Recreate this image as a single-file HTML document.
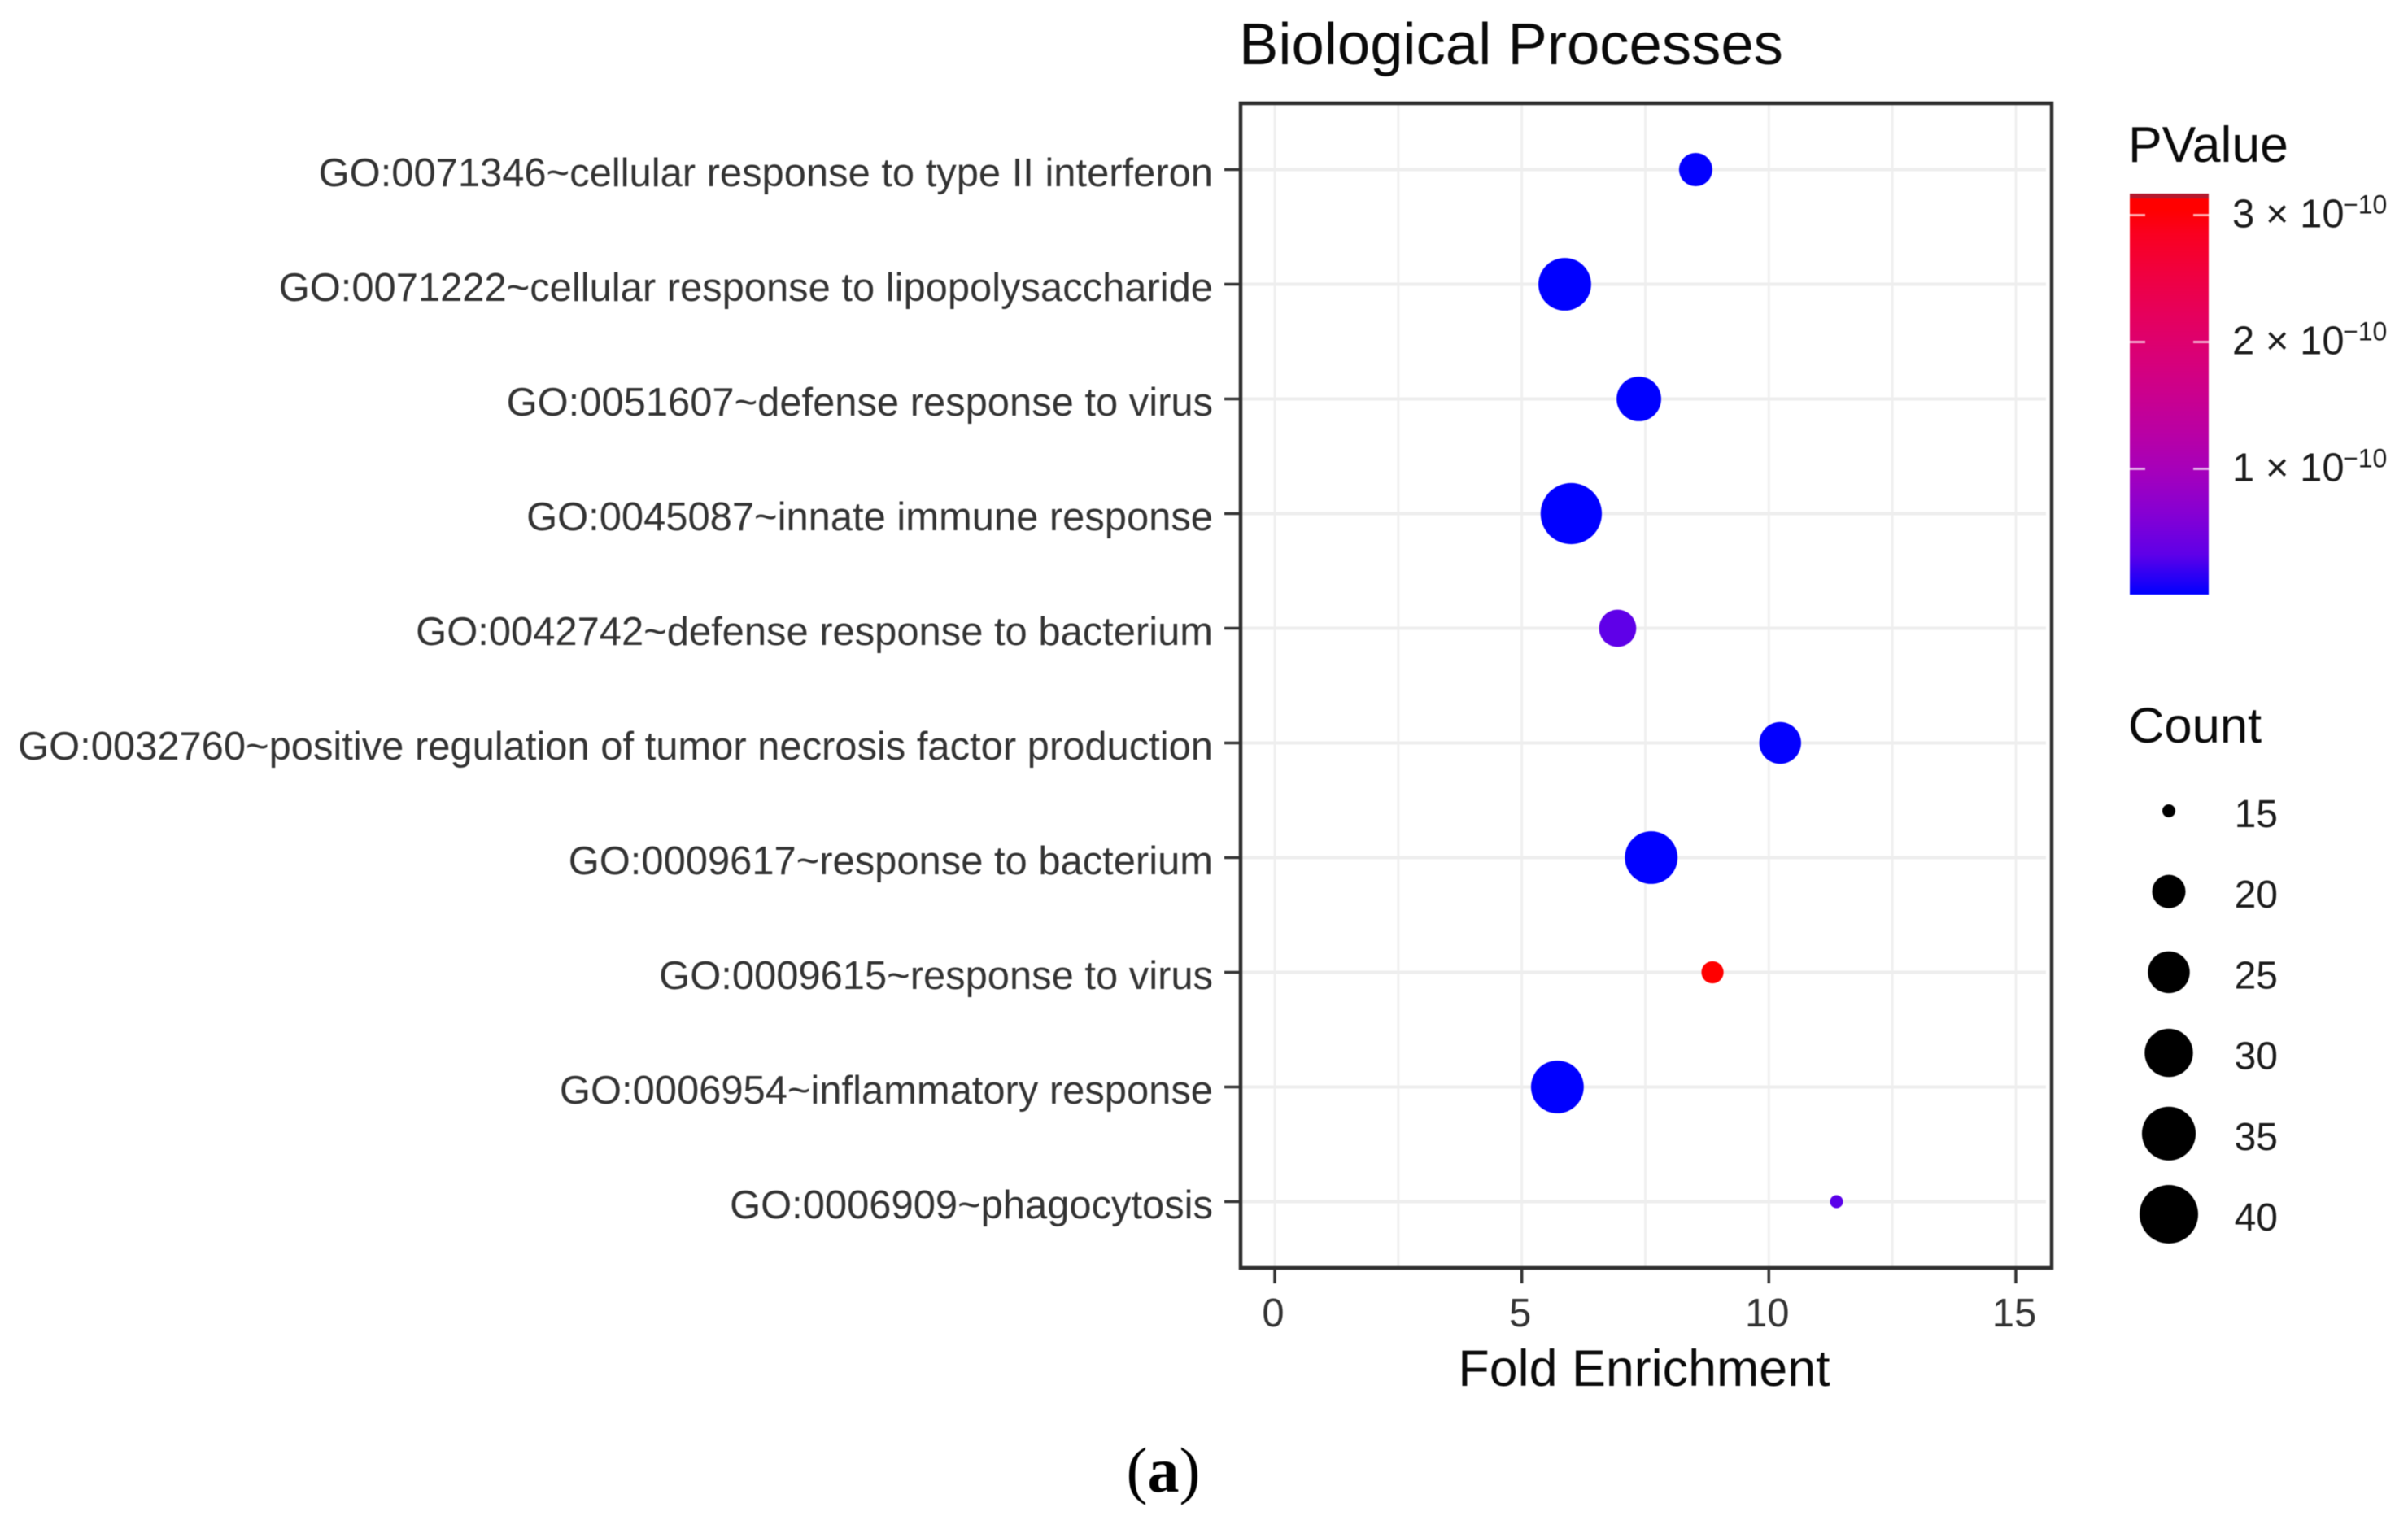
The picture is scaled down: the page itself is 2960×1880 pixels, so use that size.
<!DOCTYPE html>
<html lang="en">
<head>
<meta charset="utf-8">
<title>Biological Processes</title>
<style>
html,body{margin:0;padding:0;background:#fff;width:2960px;height:1880px;overflow:hidden}
svg{display:block;filter:blur(0.6px)}
text{font-family:"Liberation Sans",sans-serif}
</style>
</head>
<body>
<svg id="chart" xmlns="http://www.w3.org/2000/svg" width="2960" height="1880" viewBox="0 0 2960 1880">
  <defs>
    <linearGradient id="pvalue-gradient" x1="0" y1="1" x2="0" y2="0"></linearGradient>
  </defs>
  <rect x="0" y="0" width="2960" height="1880" fill="#ffffff"/>
  <text x="1523" y="79" font-size="72.5" fill="#0a0a0a">Biological Processes</text>
  <g id="grid"></g>
  <g id="points"></g>
  <rect x="1525" y="127" width="997" height="1432" fill="none" stroke="#2e2e2e" stroke-width="4.5"/>
  <g id="y-axis"></g>
  <g id="x-axis"></g>
  <text x="2021" y="1704" font-size="62.8" fill="#0a0a0a" text-anchor="middle">Fold Enrichment</text>
  <text x="2616" y="199" font-size="62.5" fill="#0a0a0a">PValue</text>
  <g id="colorbar"></g>
  <text x="2616" y="913" font-size="61.5" fill="#0a0a0a">Count</text>
  <g id="size-legend"></g>
  <text x="1430" y="1834" font-size="78" fill="#000" text-anchor="middle" style="font-family:'Liberation Serif',serif">(<tspan font-weight="bold">a</tspan>)</text>
</svg>
<script>
const categories = [
  "GO:0071346~cellular response to type II interferon",
  "GO:0071222~cellular response to lipopolysaccharide",
  "GO:0051607~defense response to virus",
  "GO:0045087~innate immune response",
  "GO:0042742~defense response to bacterium",
  "GO:0032760~positive regulation of tumor necrosis factor production",
  "GO:0009617~response to bacterium",
  "GO:0009615~response to virus",
  "GO:0006954~inflammatory response",
  "GO:0006909~phagocytosis"
];
const foldEnrichment = [8.52, 5.87, 7.37, 6.0, 6.94, 10.23, 7.62, 8.86, 5.72, 11.37];
const counts = [20, 34, 27, 43, 22, 25, 34, 16, 34, 15];
const pValuesE10 = [0.02, 0.01, 0.01, 0.01, 0.33, 0.02, 0.01, 3.17, 0.01, 0.31];
const xTicks = [0, 5, 10, 15];
const xMinorTicks = [2.5, 7.5, 12.5];
const colorTicks = [3, 2, 1];
const sizeLegendCounts = [15, 20, 25, 30, 35, 40];
const colorPositions = [0, 0.1, 0.2, 0.3, 0.4, 0.5, 0.6, 0.7, 0.8, 0.9, 0.96, 1];
const colorValues = ["#0000ff", "#5f00e8", "#8500d4", "#a400bd", "#b900a5", "#cb008e", "#da0076", "#e6005c", "#f00040", "#fa0020", "#ff0000", "#ff0000"];

const NS = "http://www.w3.org/2000/svg";
function mk(tag, attrs, parent, txt) {
  const el = document.createElementNS(NS, tag);
  for (const k in attrs) el.setAttribute(k, attrs[k]);
  if (txt !== undefined) el.textContent = txt;
  parent.appendChild(el);
  return el;
}
function xScale(v) { return 1567 + v * 60.73; }
function yScale(i) { return 208.5 + i * 141.0; }
function rScale(c) { return 8 + 28 * Math.sqrt(Math.max(0, (c - 15)) / 25); }
const P_MIN = 0.01, P_MAX = 3.17;
function pT(p) { return Math.min(1, Math.max(0, (p - P_MIN) / (P_MAX - P_MIN))); }
function yColor(p) { return 731 - pT(p) * 493; }
function hexToRgb(h) { return [1, 3, 5].map(function (s) { return parseInt(h.substr(s, 2), 16); }); }
function colorOf(p) {
  const t = pT(p);
  let i = 0;
  while (i < colorPositions.length - 2 && t > colorPositions[i + 1]) i++;
  const f = (t - colorPositions[i]) / (colorPositions[i + 1] - colorPositions[i]);
  const a = hexToRgb(colorValues[i]), b = hexToRgb(colorValues[i + 1]);
  return "rgb(" + a.map(function (v, k) { return Math.round(v + (b[k] - v) * f); }).join(",") + ")";
}

const grid = document.getElementById("grid");
const pointsG = document.getElementById("points");
const yAxis = document.getElementById("y-axis");
const xAxis = document.getElementById("x-axis");
const colorbar = document.getElementById("colorbar");
const sizeLegend = document.getElementById("size-legend");

xMinorTicks.concat(xTicks).forEach(function (v) {
  const line = mk("line", { x1: xScale(v), x2: xScale(v), y1: 127, y2: 1559, stroke: "#f0f0f0", "stroke-width": 3 }, grid);
  
  
});
categories.forEach(function (label, i) {
  const y = yScale(i);
  const line = mk("line", { x1: 1525, x2: 2515, y1: y, y2: y, stroke: "#eeeeee", "stroke-width": 4 }, grid);
  
  
  const tick = mk("line", { x1: 1505, x2: 1523, y1: y, y2: y, stroke: "#333", "stroke-width": 3.5 }, yAxis);
  
  
  const text = mk("text", { x: 1491, y: y + 20.5, "font-size": 48.9, "text-anchor": "end", fill: "#333333" }, yAxis, label);
  
  
});
xTicks.forEach(function (v) {
  const tick = mk("line", { x1: xScale(v), x2: xScale(v), y1: 1560, y2: 1578, stroke: "#333", "stroke-width": 3.5 }, xAxis);
  
  
  const text = mk("text", { x: xScale(v) - 2, y: 1631, "font-size": 49, "text-anchor": "middle", fill: "#333333" }, xAxis, String(v));
  
  
});
categories.forEach(function (label, i) {
  const c = mk("circle", { cx: xScale(foldEnrichment[i]), cy: yScale(i), r: rScale(counts[i]), fill: colorOf(pValuesE10[i]) }, pointsG);
  
  
});

const grad = document.getElementById("pvalue-gradient");
colorPositions.forEach(function (pos, i) {
  mk("stop", { offset: pos, "stop-color": colorValues[i] }, grad);
});
const bar = mk("rect", { x: 2618, y: yColor(P_MAX), width: 97, height: yColor(P_MIN) - yColor(P_MAX), fill: "url(#pvalue-gradient)" }, colorbar);


const capStrip = mk("rect", { x: 2618, y: yColor(P_MAX), width: 97, height: 6, fill: "#b51a2e" }, colorbar);


colorTicks.forEach(function (p) {
  const y = yColor(p);
  [[2618, 2637], [2696, 2715]].forEach(function (ends) {
    const t = mk("line", { x1: ends[0], x2: ends[1], y1: y, y2: y, stroke: "#ffffff", "stroke-opacity": 0.65, "stroke-width": 3 }, colorbar);
    
    
  });
  const text = mk("text", { x: 2744, y: y + 15, "font-size": 49, fill: "#1c1c1c" }, colorbar, p + " \u00d7 10");
  
  
  const exp = mk("text", { x: 2880, y: y - 2, "font-size": 32, fill: "#1c1c1c" }, colorbar, "\u221210");
  
  
});

sizeLegendCounts.forEach(function (c, i) {
  const y = 997 + i * 99.2;
  const k = mk("circle", { cx: 2666, cy: y, r: rScale(c), fill: "#000" }, sizeLegend);
  
  
  const text = mk("text", { x: 2800, y: y + 20, "font-size": 48, "text-anchor": "end", fill: "#1c1c1c" }, sizeLegend, String(c));
  
  
});
</script>
</body>
</html>
